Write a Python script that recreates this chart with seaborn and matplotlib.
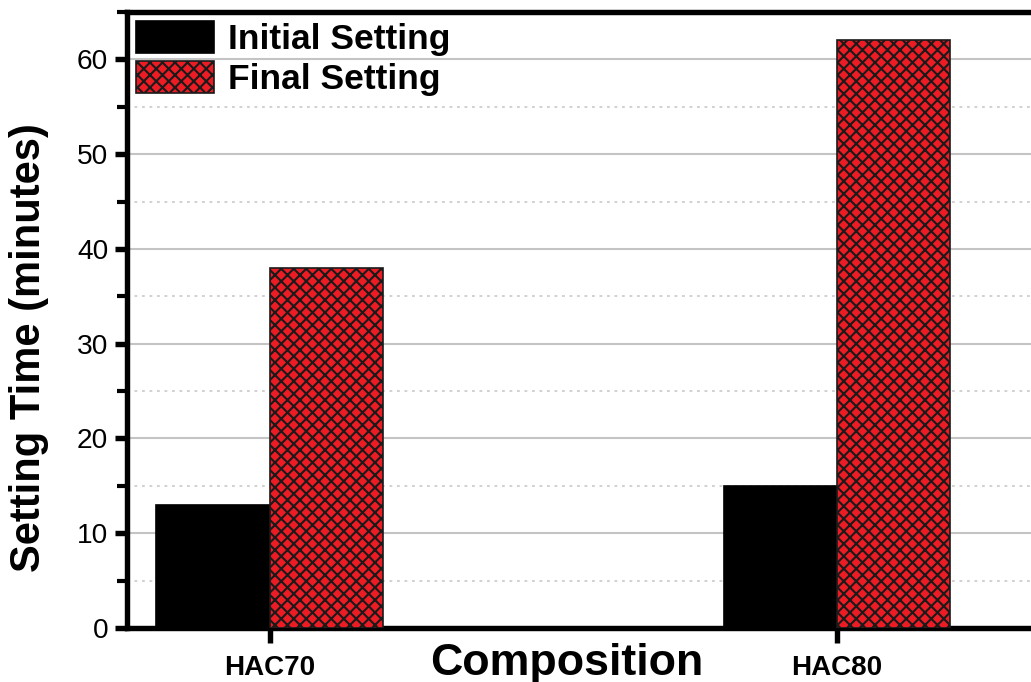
import matplotlib
matplotlib.use("Agg")
import matplotlib.pyplot as plt
import seaborn as sns
import pandas as pd
from matplotlib.ticker import MultipleLocator

categories = ["HAC70", "HAC80"]
series_names = ["Initial Setting", "Final Setting"]
initial_setting = [13, 15]
final_setting = [38, 62]

df = pd.DataFrame({
    "Composition": categories * 2,
    "Time": initial_setting + final_setting,
    "Setting": [series_names[0]] * 2 + [series_names[1]] * 2,
})

sns.set_style("white")
plt.rcParams["font.family"] = ["Liberation Sans", "DejaVu Sans"]
plt.rcParams["hatch.linewidth"] = 1.0
plt.rcParams["text.color"] = "black"
plt.rcParams["axes.labelcolor"] = "black"
plt.rcParams["xtick.color"] = "black"
plt.rcParams["ytick.color"] = "black"

DPI = 150
fig = plt.figure(figsize=(1031 / DPI, 682 / DPI), dpi=DPI)
ax = fig.add_axes([127 / 1031, 54 / 682, 913 / 1031, 616 / 682])

sns.barplot(data=df, x="Composition", y="Time", hue="Setting",
            palette=["#000000", "#ED1C24"], saturation=1, width=0.4, ax=ax,
            legend=False, zorder=3, errorbar=None)

cont_black, cont_red = ax.containers[0], ax.containers[1]
for p in cont_black.patches:
    p.set_edgecolor("#000000")
    p.set_linewidth(0.8)
for p in cont_red.patches:
    p.set_edgecolor("#1a1a1a")
    p.set_hatch("xxxx")
    p.set_linewidth(0.8)

ax.set_xlim(-0.252, 1.358)
ax.set_ylim(0, 65)
ax.yaxis.set_major_locator(MultipleLocator(10))
ax.yaxis.set_minor_locator(MultipleLocator(5))
ax.grid(axis="y", which="major", color="#c4c4c4", lw=1.0, zorder=0)
ax.grid(axis="y", which="minor", color="#d0d0d0", lw=0.9, ls=(0, (1.5, 2.5)), zorder=0)
ax.set_axisbelow(True)

for s in ["left", "bottom", "top"]:
    ax.spines[s].set_linewidth(2.6)
    ax.spines[s].set_color("black")
ax.spines["right"].set_visible(False)

ax.tick_params(axis="y", which="major", direction="out", length=6, width=2.6,
               labelsize=13.5, pad=3, left=True)
ax.tick_params(axis="y", which="minor", direction="out", length=5, width=2.0, left=True)
ax.tick_params(axis="x", which="major", direction="out", length=7, width=2.6,
               labelsize=13.3, pad=6, bottom=True)
for lbl in ax.get_xticklabels():
    lbl.set_fontweight("bold")

ax.set_xlabel("Composition", fontsize=21.5, fontweight="bold")
ax.xaxis.set_label_coords(0.482, -0.024)
ax.set_ylabel("Setting Time (minutes)", fontsize=20, fontweight="bold")
ax.yaxis.set_label_coords(-0.085, 0.456)

handles = [cont_black.patches[0], cont_red.patches[0]]
leg = ax.legend(handles, series_names, loc="upper left", frameon=False,
                prop={"weight": "bold", "size": 17},
                handlelength=2.2, handleheight=1.0, handletextpad=0.4,
                labelspacing=0.15, borderaxespad=0.15, borderpad=0.1)

fig.savefig("out.png", dpi=DPI)
